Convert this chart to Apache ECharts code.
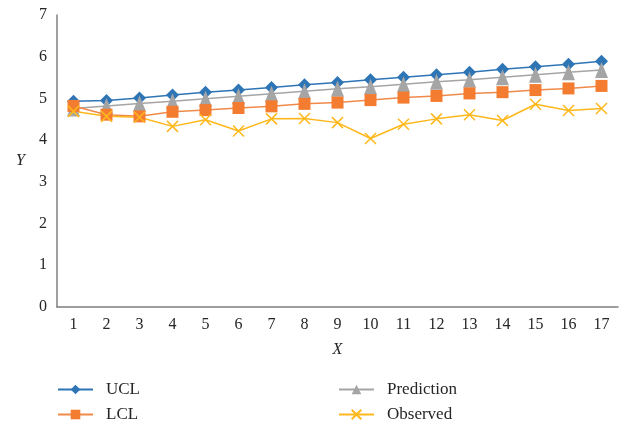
<!DOCTYPE html>
<html>
<head>
<meta charset="utf-8">
<script src="https://cdn.jsdelivr.net/npm/echarts@6/dist/echarts.min.js"></script>
<style>
  html, body { margin: 0; padding: 0; background: #fff; }
  #chart { width: 627px; height: 426px; }
</style>
</head>
<body>
<div id="chart"></div>
<script>
// Sample index along the x axis
const categories = ['1','2','3','4','5','6','7','8','9','10','11','12','13','14','15','16','17'];

// Upper and lower control limits
const ucl = [4.93, 4.95, 5.01, 5.08, 5.15, 5.20, 5.26, 5.33, 5.38, 5.45, 5.51, 5.57, 5.63, 5.70, 5.76, 5.82, 5.89];
const lcl = [4.82, 4.61, 4.57, 4.68, 4.72, 4.77, 4.81, 4.87, 4.90, 4.96, 5.02, 5.06, 5.12, 5.15, 5.20, 5.24, 5.30];

// Model prediction and observed values
const prediction = [4.76, 4.82, 4.88, 4.93, 4.99, 5.05, 5.11, 5.17, 5.23, 5.28, 5.34, 5.40, 5.45, 5.51, 5.57, 5.63, 5.68];
const observed = [4.69, 4.57, 4.55, 4.33, 4.49, 4.22, 4.51, 4.52, 4.42, 4.04, 4.38, 4.51, 4.61, 4.47, 4.86, 4.71, 4.76];

// Y axis range
const yMin = 0, yMax = 7, yStep = 1;

const serif = '"Liberation Serif", "Times New Roman", serif';
const textColor = '#262626';
const axisColor = '#7f7f7f';

const crossSymbol = 'path://M0,0L10,10M10,0L0,10';

function lineSeries(name, data, color, lineColor, symbol, size, extraItem) {
  return {
    name: name,
    type: 'line',
    data: data,
    symbol: symbol,
    symbolSize: size,
    showAllSymbol: true,
    lineStyle: { color: lineColor, width: 1.5 },
    itemStyle: Object.assign({ color: color }, extraItem || {}),
    emphasis: { disabled: true },
    animation: false
  };
}

const chart = echarts.init(document.getElementById('chart'), null, { renderer: 'canvas' });

const legendText = {
  fontFamily: serif,
  fontSize: 17,
  color: textColor,
  lineHeight: 16,
  padding: [0, 0, 0, 8]
};

function legendBlock(names, left) {
  return {
    data: names,
    orient: 'vertical',
    left: left,
    top: 381,
    height: 45,
    padding: 0,
    itemWidth: 35,
    itemHeight: 12,
    itemGap: 8,
    textStyle: legendText
  };
}

chart.setOption({
  backgroundColor: '#ffffff',
  animation: false,
  grid: { left: 57, right: 9, top: 15, bottom: 119, containLabel: false },
  legend: [
    legendBlock(['UCL', 'LCL'], 57),
    legendBlock(['Prediction', 'Observed'], 338)
  ],
  xAxis: {
    type: 'category',
    data: categories,
    boundaryGap: true,
    name: 'X',
    nameLocation: 'middle',
    nameGap: 35,
    nameTextStyle: { fontFamily: serif, fontSize: 16, fontStyle: 'italic', color: textColor },
    axisLine: { show: true, lineStyle: { color: axisColor, width: 1.5 } },
    axisTick: { show: false },
    axisLabel: { fontFamily: serif, fontSize: 16, color: textColor, margin: 10, interval: 0 },
    splitLine: { show: false }
  },
  yAxis: {
    type: 'value',
    min: yMin,
    max: yMax,
    interval: yStep,
    name: 'Y',
    nameLocation: 'middle',
    nameRotate: 0,
    nameGap: 32,
    nameTextStyle: { fontFamily: serif, fontSize: 16, fontStyle: 'italic', color: textColor },
    axisLine: { show: true, lineStyle: { color: axisColor, width: 1.5 } },
    axisTick: { show: false },
    axisLabel: { fontFamily: serif, fontSize: 16, color: textColor, margin: 10 },
    splitLine: { show: false }
  },
  series: [
    lineSeries('UCL', ucl, '#2E75B6', '#2E75B6', 'diamond', 13),
    lineSeries('Prediction', prediction, '#A5A5A5', '#A5A5A5', 'triangle', [13, 16]),
    lineSeries('LCL', lcl, '#F47C30', '#F08A4B', 'rect', 12),
    lineSeries('Observed', observed, '#FFB81C', '#FFB81C', crossSymbol, 11,
      { borderColor: '#FFB81C', borderWidth: 1.5 })
  ]
});
</script>
</body>
</html>
